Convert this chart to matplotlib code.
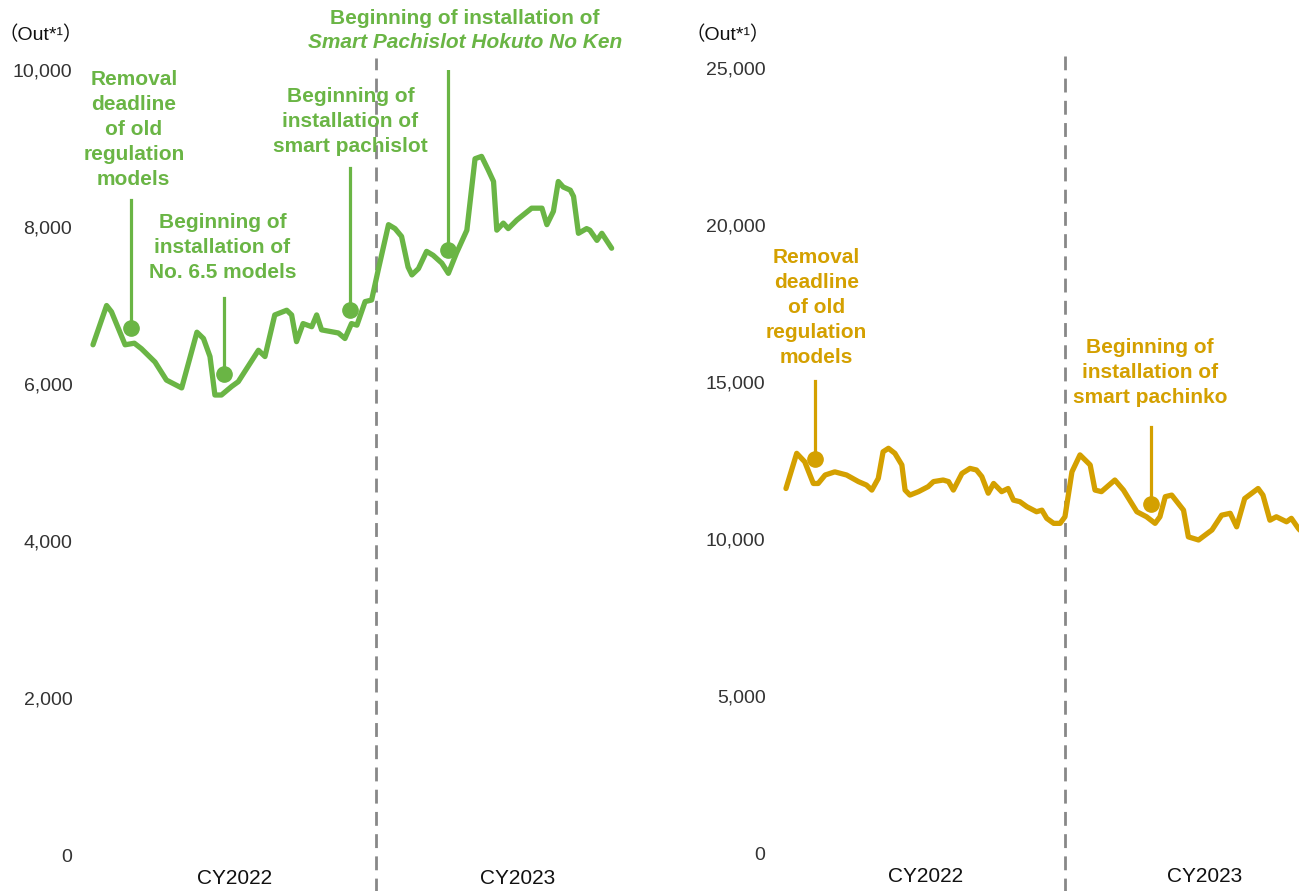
import numpy as np
import matplotlib.pyplot as plt
from matplotlib.ticker import FuncFormatter
from matplotlib import transforms

plt.rcParams['font.family'] = ['Liberation Sans', 'Noto Sans CJK JP', 'DejaVu Sans']

green = '#6ab545'
gold = '#d4a000'

# weeks counted from first week of CY2022 (52 = start of CY2023)
slot_weeks = [0.0, 2.5, 3.4, 5.9, 7.6, 8.9, 11.4, 13.5, 16.3, 19.1, 20.3, 21.5, 22.4, 23.6,
              25.5, 26.7, 30.4, 31.6, 33.4, 35.6, 36.5, 37.4, 38.6, 40.2, 41.1, 42.0, 45.1,
              46.3, 47.5, 48.5, 50.0, 51.2, 52.4, 54.3, 55.5, 56.7, 57.9, 58.6, 59.8, 61.3,
              62.5, 64.1, 65.3, 66.8, 68.7, 70.2, 71.4, 72.6, 73.6, 74.2, 75.4, 76.3, 77.9,
              80.6, 82.5, 83.4, 84.6, 85.5, 86.4, 87.7, 88.3, 89.2, 90.7, 91.3, 92.6, 93.5, 95.3]
slot_out = [6500, 7000, 6920, 6500, 6520, 6450, 6280, 6050, 5950, 6660, 6580, 6350, 5860, 5860,
            5970, 6030, 6430, 6350, 6880, 6940, 6880, 6540, 6770, 6730, 6880, 6690, 6650,
            6580, 6770, 6750, 7050, 7070, 7450, 8030, 7980, 7880, 7490, 7390, 7470, 7690,
            7640, 7540, 7410, 7670, 7960, 8870, 8900, 8730, 8580, 7960, 8050, 7980, 8090,
            8240, 8240, 8030, 8200, 8580, 8510, 8470, 8390, 7920, 7980, 7960, 7830, 7920, 7730]

pachi_weeks = [0.0, 2.0, 3.5, 5.1, 6.0, 7.3, 9.1, 11.3, 13.5, 15.0, 16.0, 17.2, 18.1, 19.1,
               20.3, 21.6, 22.2, 23.1, 24.7, 26.5, 27.5, 29.3, 30.3, 31.2, 32.8, 34.3, 35.5,
               36.5, 37.7, 38.7, 40.2, 41.4, 42.4, 43.6, 44.9, 46.7, 47.7, 48.6, 49.9, 51.1,
               52.0, 53.3, 54.8, 56.7, 57.6, 58.8, 61.3, 62.9, 65.4, 67.2, 68.8, 69.7, 70.7,
               71.9, 74.1, 75.0, 76.9, 79.4, 81.2, 82.8, 84.0, 85.5, 88.0, 88.9, 90.2, 91.4,
               93.3, 94.2, 95.5, 96.5]
pachi_out = [11610, 12730, 12460, 11770, 11770, 12040, 12140, 12040, 11830, 11720, 11560, 11930,
             12780, 12890, 12730, 12360, 11560, 11400, 11510, 11670, 11830, 11880, 11830, 11560,
             12090, 12250, 12200, 11990, 11460, 11770, 11510, 11610, 11240, 11190, 11030, 10870,
             10920, 10660, 10500, 10500, 10710, 12140, 12680, 12360, 11560, 11510, 11880, 11560,
             10870, 10710, 10500, 10710, 11350, 11400, 10920, 10070, 9970, 10290, 10760, 10820,
             10390, 11290, 11610, 11400, 10600, 10710, 10550, 10660, 10340, 10150]

slot_events = ["Removal\ndeadline\nof old\nregulation\nmodels",
               "Beginning of\ninstallation of\nNo. 6.5 models",
               "Beginning of\ninstallation of\nsmart pachislot"]
slot_event_week = [7.0, 24.1, 47.2]
slot_event_val = [6713, 6127, 6943]
slot_stem_top = [8344, 7096, 8752]
slot_label_xy = [(7.5, 9242), (23.8, 7745), (47.3, 9338)]

hokuto_week, hokuto_val, hokuto_top = 65.2, 7707, 10025

pachi_events = ["Removal\ndeadline\nof old\nregulation\nmodels",
                "Beginning of\ninstallation of\nsmart pachinko"]
pachi_event_week = [5.4, 68.0]
pachi_event_val = [12548, 11115]
pachi_stem_top = [15032, 13567]
pachi_label_xy = [(5.7, 17369), (67.9, 15318)]

years = ['CY2022', 'CY2023']
year_mid = [26, 78]

fig = plt.figure(figsize=(12.99, 8.91), dpi=100)
ax1 = fig.add_axes([0.0632, 0.0404, 0.4441, 0.881])
ax2 = fig.add_axes([0.5968, 0.0426, 0.4378, 0.881])

fmt = FuncFormatter(lambda v, p: f'{int(v):,}')

for ax, ymax, step in [(ax1, 10000, 2000), (ax2, 25000, 5000)]:
    ax.set_xlim(-2, 104)
    ax.set_ylim(0, ymax)
    ax.set_yticks(np.arange(0, ymax + 1, step))
    ax.yaxis.set_major_formatter(fmt)
    ax.set_xticks([])
    ax.tick_params(axis='y', length=0, pad=7, labelsize=14, labelcolor='#333333')
    for s in ax.spines.values():
        s.set_visible(False)
    ax.axvline(52, ymin=-0.05, ymax=1.015, color='#888888', lw=2, ls=(0, (5, 3)), clip_on=False)
    tr = transforms.blended_transform_factory(ax.transData, ax.transAxes)
    for yl, xm in zip(years, year_mid):
        ax.text(xm, -0.03, yl, transform=tr, ha='center', va='center', fontsize=15, color='#111111')

# left: pachislot
ax1.plot(slot_weeks, slot_out, color=green, lw=3.8, solid_joinstyle='round', solid_capstyle='round')
for lab, w, v, top, (lx, ly) in zip(slot_events, slot_event_week, slot_event_val, slot_stem_top, slot_label_xy):
    ax1.plot([w, w], [v, top], color=green, lw=2.3)
    ax1.plot(w, v, 'o', color=green, ms=11)
    ax1.text(lx, ly, lab, ha='center', va='center', fontsize=15, fontweight='bold',
             color=green, linespacing=1.4)
ax1.plot([hokuto_week, hokuto_week], [hokuto_val, hokuto_top], color=green, lw=2.3)
ax1.plot(hokuto_week, hokuto_val, 'o', color=green, ms=11)
ax1.text(68.4, 10662, "Beginning of installation of", ha='center', va='center', fontsize=15,
         fontweight='bold', color=green, clip_on=False)
ax1.text(68.4, 10357, "Smart Pachislot Hokuto No Ken", ha='center', va='center', fontsize=15,
         fontweight='bold', fontstyle='italic', color=green, clip_on=False)

# right: pachinko
ax2.plot(pachi_weeks, pachi_out, color=gold, lw=3.8, solid_joinstyle='round', solid_capstyle='round')
for lab, w, v, top, (lx, ly) in zip(pachi_events, pachi_event_week, pachi_event_val, pachi_stem_top, pachi_label_xy):
    ax2.plot([w, w], [v, top], color=gold, lw=2.3)
    ax2.plot(w, v, 'o', color=gold, ms=11)
    ax2.text(lx, ly, lab, ha='center', va='center', fontsize=15, fontweight='bold',
             color=gold, linespacing=1.4)

fig.text(-0.001, 0.961, '（Out*¹）', fontsize=14, va='center', ha='left', color='#111111')
fig.text(0.5280, 0.961, '（Out*¹）', fontsize=14, va='center', ha='left', color='#111111')

fig.savefig('out.png', dpi=100)
